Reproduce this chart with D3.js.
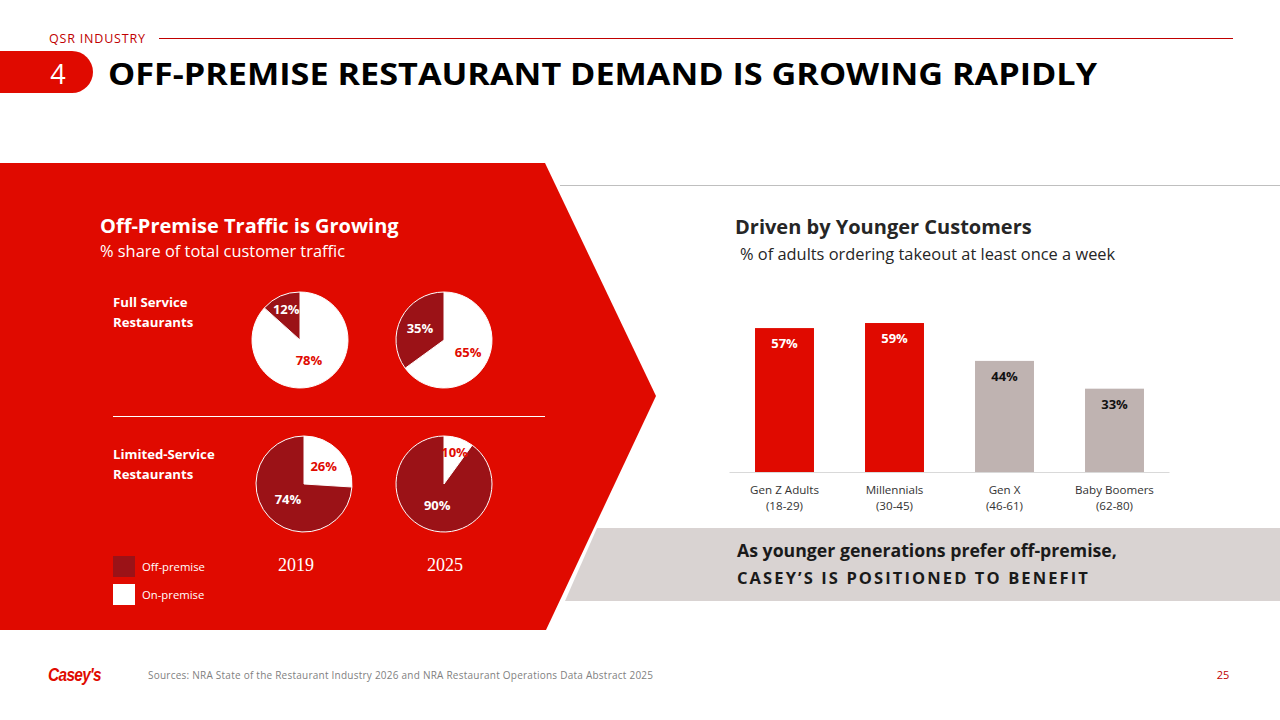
<!DOCTYPE html>
<html>
<head>
<meta charset="utf-8">
<script src="https://cdn.jsdelivr.net/npm/d3@7"></script>
<style>
  html, body { margin: 0; padding: 0; background: #fff; }
  svg { display: block; font-family: "Open Sans", Lato, sans-serif; }
</style>
</head>
<body>
<svg id="slide" width="1280" height="720"></svg>
<script>
// pie data: share of customer traffic
const pieYears = ["2019", "2025"];
const fullServiceOff = [12, 35];
const fullServiceOn = [78, 65];
const limitedOff = [74, 90];
const limitedOn = [26, 10];
const legendLabels = ["Off-premise", "On-premise"];

// bar data: % of adults ordering takeout at least once a week
const generations = ["Gen Z Adults", "Millennials", "Gen X", "Baby Boomers"];
const ageRanges = ["(18-29)", "(30-45)", "(46-61)", "(62-80)"];
const takeoutShare = [57, 59, 44, 33];

const RED = "#e00a00";
const DARK_RED = "#9b1217";
const GREY_BAR = "#bfb3b1";

const svg = d3.select("#slide");

// ---- header ----
svg.append("text")
  .attr("x", 49).attr("y", 43)
  .attr("fill", "#c00000").attr("font-size", 12.5)
  .attr("textLength", 96)
  .text("QSR INDUSTRY");

svg.append("line")
  .attr("x1", 159).attr("x2", 1233).attr("y1", 38.5).attr("y2", 38.5)
  .attr("stroke", "#c00000").attr("stroke-width", 1);

svg.append("path")
  .attr("d", "M0,51 H72 A21,21 0 0 1 72,93 H0 Z")
  .attr("fill", RED);

svg.append("text")
  .attr("x", 58).attr("y", 84)
  .attr("text-anchor", "middle")
  .attr("fill", "#fff").attr("font-size", 27)
  .text("4");

svg.append("text")
  .attr("x", 108).attr("y", 85)
  .attr("font-size", 30).attr("font-weight", 700).attr("fill", "#000")
  .attr("textLength", 989).attr("lengthAdjust", "spacingAndGlyphs")
  .text("OFF-PREMISE RESTAURANT DEMAND IS GROWING RAPIDLY");

// ---- red chevron + grey band ----
svg.append("line")
  .attr("x1", 560).attr("x2", 1280).attr("y1", 185.5).attr("y2", 185.5)
  .attr("stroke", "#bfbfbf").attr("stroke-width", 1);

svg.append("path")
  .attr("d", "M597,528 H1280 V601 H565 Z")
  .attr("fill", "#d9d3d2");

svg.append("path")
  .attr("d", "M0,163 H545 L656,396 L546,630 H0 Z")
  .attr("fill", RED);

// ---- left panel titles ----
svg.append("text")
  .attr("x", 100).attr("y", 233)
  .attr("fill", "#fff").attr("font-size", 20).attr("font-weight", 700)
  .text("Off-Premise Traffic is Growing");

svg.append("text")
  .attr("x", 100).attr("y", 257)
  .attr("fill", "#fff").attr("font-size", 16.4)
  .text("% share of total customer traffic");

function rowLabel(lines, y) {
  const t = svg.append("text")
    .attr("x", 113).attr("y", y)
    .attr("fill", "#fff").attr("font-size", 13.2).attr("font-weight", 700);
  lines.forEach((l, i) => {
    t.append("tspan").attr("x", 113).attr("dy", i ? 20 : 0).text(l);
  });
}
rowLabel(["Full Service", "Restaurants"], 307);
rowLabel(["Limited-Service", "Restaurants"], 459);

svg.append("line")
  .attr("x1", 113).attr("x2", 545).attr("y1", 416.5).attr("y2", 416.5)
  .attr("stroke", "#fff").attr("stroke-width", 1);

// ---- pies ----
const R = 48;
const pie = d3.pie().sort(null).value(d => d.value);
const arc = d3.arc().innerRadius(0).outerRadius(R);

function drawPie(cx, cy, off, on) {
  const data = [
    { key: "on", value: on },
    { key: "off", value: off }
  ];
  const g = svg.append("g").attr("transform", `translate(${cx},${cy})`);
  const arcs = pie(data);
  g.selectAll("path")
    .data(arcs)
    .join("path")
    .attr("d", arc)
    .attr("fill", d => d.data.key === "off" ? DARK_RED : "#fff")
    .attr("stroke", "#fff")
    .attr("stroke-width", 1);

  const total = off + on;
  g.selectAll("text")
    .data(arcs)
    .join("text")
    .each(function (d) {
      const share = d.data.value / total;
      const r = share < 0.15 ? 34 : (share > 0.7 ? 22 : 27);
      const c = d3.arc().innerRadius(r).outerRadius(r).centroid(d);
      d3.select(this).attr("x", c[0]).attr("y", c[1]);
    })
    .attr("text-anchor", "middle")
    .attr("dominant-baseline", "central")
    .attr("font-size", 13).attr("font-weight", 700)
    .attr("fill", d => d.data.key === "off" ? "#fff" : RED)
    .text(d => d.data.value + "%");
}

const pieX = d3.scalePoint().domain(pieYears).range([302, 444]);
pieYears.forEach((yr, i) => {
  drawPie(pieX(yr) - (i === 0 ? 2 : 0), 340, fullServiceOff[i], fullServiceOn[i]);
  drawPie(pieX(yr) + (i === 0 ? 2 : 0), 484, limitedOff[i], limitedOn[i]);
  svg.append("text")
    .attr("x", pieX(yr) - 6 + i * 7).attr("y", 571)
    .attr("text-anchor", "middle")
    .attr("fill", "#fff").attr("font-size", 18)
    .attr("font-family", "'Liberation Serif', serif")
    .text(yr);
});

// legend
legendLabels.forEach((lab, i) => {
  svg.append("rect")
    .attr("x", 113).attr("y", 556 + i * 28)
    .attr("width", 22).attr("height", 21)
    .attr("fill", i === 0 ? DARK_RED : "#fff");
  svg.append("text")
    .attr("x", 142).attr("y", 571 + i * 28)
    .attr("fill", "#fff").attr("font-size", 11.3)
    .text(lab);
});

// ---- bar chart ----
svg.append("text")
  .attr("x", 735).attr("y", 234)
  .attr("fill", "#262626").attr("font-size", 20).attr("font-weight", 700)
  .text("Driven by Younger Customers");

svg.append("text")
  .attr("x", 740).attr("y", 260)
  .attr("fill", "#262626").attr("font-size", 16.4)
  .text("% of adults ordering takeout at least once a week");

const x = d3.scaleBand()
  .domain(generations)
  .range([729.5, 1169.5])
  .paddingInner(0.464)
  .paddingOuter(0.232);

const y = d3.scaleLinear().domain([0, 60]).range([472, 320.5]);

const bars = svg.append("g");
bars.selectAll("rect")
  .data(takeoutShare)
  .join("rect")
  .attr("x", (d, i) => x(generations[i]))
  .attr("y", d => y(d))
  .attr("width", x.bandwidth())
  .attr("height", d => y(0) - y(d))
  .attr("fill", (d, i) => i < 2 ? RED : GREY_BAR);

bars.selectAll("text")
  .data(takeoutShare)
  .join("text")
  .attr("x", (d, i) => x(generations[i]) + x.bandwidth() / 2)
  .attr("y", d => y(d) + 20)
  .attr("text-anchor", "middle")
  .attr("font-size", 13).attr("font-weight", 700)
  .attr("fill", (d, i) => i < 2 ? "#fff" : "#111")
  .text(d => d + "%");

const xAxis = svg.append("g")
  .attr("transform", `translate(0,${y(0)})`)
  .call(d3.axisBottom(x).tickSize(0).tickPadding(0).tickFormat(() => ""));
xAxis.select(".domain").attr("stroke", "#d9d9d9").attr("d", "M729.5,0.5H1169.5");
xAxis.selectAll(".tick text").each(function (d, i) {
  const t = d3.select(this)
    .attr("fill", "#333").attr("font-size", 11.6)
    .attr("font-family", "'Open Sans', sans-serif")
    .attr("y", 22).attr("dy", 0);
  t.append("tspan").attr("x", 0).attr("dy", 0).text(d);
  t.append("tspan").attr("x", 0).attr("dy", 16).text(ageRanges[i]);
});

// ---- takeaway band ----
svg.append("text")
  .attr("x", 737).attr("y", 557)
  .attr("fill", "#1a1a1a").attr("font-size", 17.7).attr("font-weight", 700)
  .text("As younger generations prefer off-premise,");

svg.append("text")
  .attr("x", 737).attr("y", 584)
  .attr("fill", "#1a1a1a").attr("font-size", 16.5).attr("font-weight", 700)
  .attr("letter-spacing", 2.1)
  .text("CASEY\u2019S IS POSITIONED TO BENEFIT");

// ---- footer ----
svg.append("text")
  .attr("x", 48).attr("y", 681)
  .attr("fill", RED).attr("font-size", 18).attr("font-weight", 700)
  .attr("font-style", "italic").attr("letter-spacing", -0.8)
  .attr("textLength", 53).attr("lengthAdjust", "spacingAndGlyphs")
  .attr("font-family", "'Liberation Sans Narrow', 'Liberation Sans', sans-serif")
  .text("Casey's");

svg.append("text")
  .attr("x", 148).attr("y", 679)
  .attr("fill", "#7f7f7f").attr("font-size", 10)
  .attr("textLength", 505)
  .text("Sources: NRA State of the Restaurant Industry 2026 and NRA Restaurant Operations Data Abstract 2025");

svg.append("text")
  .attr("x", 1223).attr("y", 679)
  .attr("text-anchor", "middle")
  .attr("fill", "#c00000").attr("font-size", 11)
  .text("25");
</script>
</body>
</html>
